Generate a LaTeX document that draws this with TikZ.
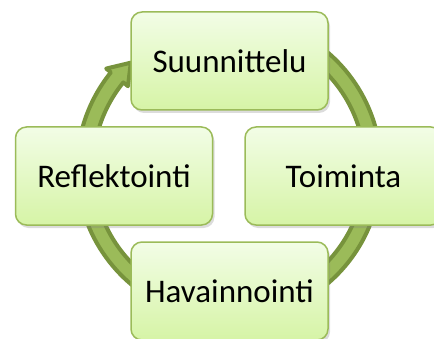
\documentclass[tikz,border=0pt]{standalone}
\usepackage{fontspec}
\setmainfont{Carlito}
\usetikzlibrary{shadows}
\definecolor{ringdark}{HTML}{77933C}
\definecolor{ringlight}{HTML}{9BBB59}
\definecolor{boxtop}{HTML}{F2FDE6}
\definecolor{boxbot}{HTML}{D6F4A6}
\definecolor{boxline}{HTML}{9BBB59}
\tikzset{
  stagebox/.style={draw=boxline, line width=1.5pt, rounded corners=11pt,
    top color=boxtop, bottom color=boxbot,
    minimum width=197pt, minimum height=98pt, inner sep=0pt,
    font=\fontsize{33}{40}\selectfont, text=black,
    drop shadow={opacity=0.28, shadow xshift=2pt, shadow yshift=-3pt}},
  cyclering/.style={fill=ringlight, draw=ringdark, line width=4pt, line join=round}
}
\begin{document}
\begin{tikzpicture}[x=1pt,y=1pt]
\useasboundingbox (0,0) rectangle (434,338);
\coordinate (c) at (229,170);
\begin{scope}[shift={(c)}]
\path[cyclering] (80:152pt) arc[start angle=80,end angle=-219,radius=152pt]
  -- (-219:158pt) -- (-227:144pt) -- (-219:130pt) -- (-219:136pt)
  arc[start angle=-219,end angle=80,radius=136pt] -- cycle;
\end{scope}
\node[stagebox] (s) at (229.5,277) {Suunnittelu};
\node[stagebox] (r) at (114,162) {Reflektointi};
\node[stagebox] (t) at (343.5,162) {Toiminta};
\node[stagebox] (h) at (229.5,47) {Havainnointi};
\end{tikzpicture}
\end{document}
